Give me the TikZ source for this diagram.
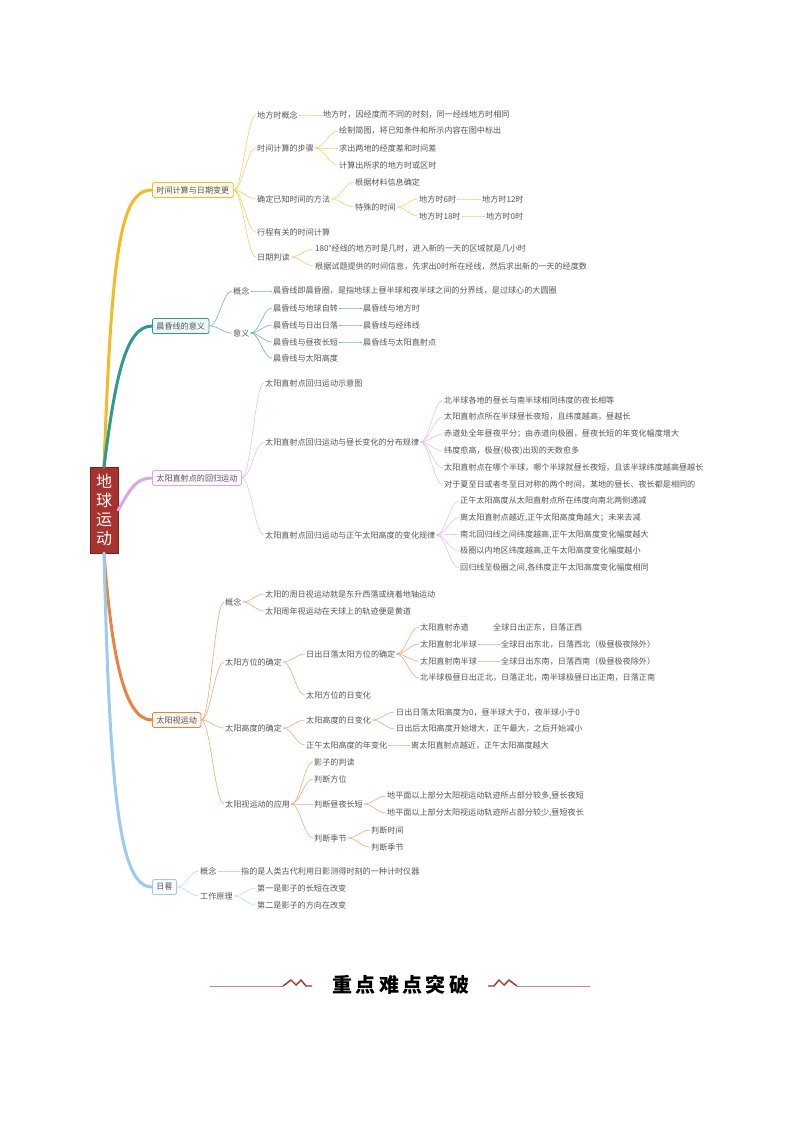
\documentclass[tikz,border=0pt]{standalone}
\usepackage{fontspec}
\newfontfamily\cjk{Noto Sans CJK SC}
\usetikzlibrary{positioning}
\definecolor{rootred}{HTML}{A8322D}
\definecolor{cyel}{HTML}{F5B921}
\definecolor{cteal}{HTML}{2A9A92}
\definecolor{cpur}{HTML}{D9A6E6}
\definecolor{corg}{HTML}{E8843C}
\definecolor{cblu}{HTML}{9CCBF2}
\definecolor{txt}{HTML}{555555}
\tikzset{
  leaf/.style={anchor=west, inner sep=1pt, font=\cjk\fontsize{8.1}{9}\selectfont, text=txt},
  main/.style={draw=#1, fill=#1!8, rounded corners=2pt, line width=0.8pt, anchor=west,
    minimum height=15pt, inner xsep=4pt, font=\cjk\fontsize{8.1}{9}\selectfont, text=txt},
  link/.style={draw=#1!70, line width=0.6pt},
  trunk/.style={draw=#1, line width=3pt, line cap=round},
}
\newcommand{\lnk}[3]{\draw[link=#1] (#2.east) .. controls +(9,0) and +(-9,0) .. (#3.west);}
\begin{document}
\begin{tikzpicture}[x=1pt,y=-1pt]
\useasboundingbox (0,0) rectangle (800,1132);
% root
\node[fill=rootred, draw=rootred!70!black, minimum width=28pt, minimum height=86pt, text=white,
  font=\cjk\fontsize{16}{21}\selectfont, align=center] (root) at (104,510) {地\\[-2pt]球\\[-2pt]运\\[-2pt]动};

% main branches
\node[main=cyel] (b1) at (152,190) {时间计算与日期变更};
\node[main=cteal] (b2) at (152,326) {晨昏线的意义};
\node[main=cpur] (b3) at (152,478) {太阳直射点的回归运动};
\node[main=corg] (b4) at (152,720) {太阳视运动};
\node[main=cblu] (b5) at (152,887) {日晷};
\draw[trunk=cyel] (root.north) .. controls (112,250) and (120,190) .. (b1.west);
\draw[trunk=cteal] (root.north) .. controls (115,380) and (125,326) .. (b2.west);
\draw[trunk=cpur] (root.east) .. controls (130,490) and (135,478) .. (b3.west);
\draw[trunk=corg] (root.south) .. controls (112,660) and (125,720) .. (b4.west);
\draw[trunk=cblu] (root.south) .. controls (110,800) and (120,887) .. (b5.west);

% branch 1
\node[leaf] (b1a) at (256,115) {地方时概念};
\node[leaf] (b1b) at (256,148) {时间计算的步骤};
\node[leaf] (b1c) at (256,199) {确定已知时间的方法};
\node[leaf] (b1d) at (256,232) {行程有关的时间计算};
\node[leaf] (b1e) at (256,257) {日期判读};
\node[leaf] (b1a1) at (322,115) {地方时，因经度而不同的时刻，同一经线地方时相同};
\node[leaf] (b1b1) at (338,131) {绘制简图，将已知条件和所示内容在图中标出};
\node[leaf] (b1b2) at (338,148) {求出两地的经度差和时间差};
\node[leaf] (b1b3) at (338,165) {计算出所求的地方时或区时};
\node[leaf] (b1c1) at (354,182) {根据材料信息确定};
\node[leaf] (b1c2) at (354,207) {特殊的时间};
\node[leaf] (b1c21) at (418,199) {地方时6时};
\node[leaf] (b1c22) at (418,216) {地方时18时};
\node[leaf] (b1c211) at (481,199) {地方时12时};
\node[leaf] (b1c221) at (485,216) {地方时0时};
\node[leaf] (b1e1) at (314,249) {180°经线的地方时是几时，进入新的一天的区域就是几小时};
\node[leaf] (b1e2) at (314,266) {根据试题提供的时间信息，先求出0时所在经线，然后求出新的一天的经度数};
\foreach \a/\b in {b1/b1a,b1/b1b,b1/b1c,b1/b1d,b1/b1e,b1a/b1a1,b1b/b1b1,b1b/b1b2,b1b/b1b3,
  b1c/b1c1,b1c/b1c2,b1c2/b1c21,b1c2/b1c22,b1c21/b1c211,b1c22/b1c221,b1e/b1e1,b1e/b1e2}
  {\lnk{cyel}{\a}{\b}}

% branch 2
\node[leaf] (b2a) at (232,291) {概念};
\node[leaf] (b2b) at (232,333) {意义};
\node[leaf] (b2a1) at (272,291) {晨昏线即晨昏圈，是指地球上昼半球和夜半球之间的分界线，是过球心的大圆圈};
\node[leaf] (b2b1) at (272,308) {晨昏线与地球自转};
\node[leaf] (b2b2) at (272,325) {晨昏线与日出日落};
\node[leaf] (b2b3) at (272,342) {晨昏线与昼夜长短};
\node[leaf] (b2b4) at (272,358) {晨昏线与太阳高度};
\node[leaf] (b2b11) at (362,308) {晨昏线与地方时};
\node[leaf] (b2b21) at (362,325) {晨昏线与经纬线};
\node[leaf] (b2b31) at (362,342) {晨昏线与太阳直射点};
\foreach \a/\b in {b2/b2a,b2/b2b,b2a/b2a1,b2b/b2b1,b2b/b2b2,b2b/b2b3,b2b/b2b4,
  b2b1/b2b11,b2b2/b2b21,b2b3/b2b31}
  {\lnk{cteal}{\a}{\b}}

% branch 3
\node[leaf] (b3a) at (264,383) {太阳直射点回归运动示意图};
\node[leaf] (b3b) at (264,442) {太阳直射点回归运动与昼长变化的分布规律};
\node[leaf] (b3c) at (264,535) {太阳直射点回归运动与正午太阳高度的变化规律};
\foreach \t [count=\i] in {{北半球各地的昼长与南半球相同纬度的夜长相等},
  {太阳直射点所在半球昼长夜短，且纬度越高，昼越长},
  {赤道处全年昼夜平分；由赤道向极圈，昼夜长短的年变化幅度增大},
  {纬度愈高，极昼(极夜)出现的天数愈多},
  {太阳直射点在哪个半球，哪个半球就昼长夜短，且该半球纬度越高昼越长},
  {对于夏至日或者冬至日对称的两个时间，某地的昼长、夜长都是相同的}}
  {\node[leaf] (b3b\i) at (443,{383+17*\i}) {\t}; \lnk{cpur}{b3b}{b3b\i}}
\foreach \t [count=\i] in {{正午太阳高度从太阳直射点所在纬度向南北两侧递减},
  {离太阳直射点越近,正午太阳高度角越大；未来去减},
  {南北回归线之间纬度越高,正午太阳高度变化幅度越大},
  {极圈以内地区纬度越高,正午太阳高度变化幅度越小},
  {回归线至极圈之间,各纬度正午太阳高度变化幅度相同}}
  {\node[leaf] (b3c\i) at (459,{484+16.8*\i}) {\t}; \lnk{cpur}{b3c}{b3c\i}}
\foreach \b in {b3a,b3b,b3c} {\lnk{cpur}{b3}{\b}}

% branch 4
\node[leaf] (b4a) at (224,602) {概念};
\node[leaf] (b4b) at (224,662) {太阳方位的确定};
\node[leaf] (b4c) at (224,728) {太阳高度的确定};
\node[leaf] (b4d) at (224,804) {太阳视运动的应用};
\node[leaf] (b4a1) at (264,594) {太阳的周日视运动就是东升西落或绕着地轴运动};
\node[leaf] (b4a2) at (264,611) {太阳周年视运动在天球上的轨迹便是黄道};
\node[leaf] (b4b1) at (305,654) {日出日落太阳方位的确定};
\node[leaf] (b4b2) at (305,695) {太阳方位的日变化};
\node[leaf] (b4b11) at (419,627) {太阳直射赤道};
\node[leaf] (b4b12) at (419,644) {太阳直射北半球};
\node[leaf] (b4b13) at (419,661) {太阳直射南半球};
\node[leaf] (b4b14) at (419,678) {北半球极昼日出正北，日落正北，南半球极昼日出正南，日落正南};
\node[leaf] (b4b111) at (492,627) {全球日出正东，日落正西};
\node[leaf] (b4b121) at (500,644) {全球日出东北，日落西北（极昼极夜除外）};
\node[leaf] (b4b131) at (500,661) {全球日出东南，日落西南（极昼极夜除外）};
\node[leaf] (b4c1) at (305,720) {太阳高度的日变化};
\node[leaf] (b4c2) at (305,745) {正午太阳高度的年变化};
\node[leaf] (b4c11) at (395,712) {日出日落太阳高度为0，昼半球大于0，夜半球小于0};
\node[leaf] (b4c12) at (395,729) {日出后太阳高度开始增大，正午最大，之后开始减小};
\node[leaf] (b4c21) at (410,745) {离太阳直射点越近，正午太阳高度越大};
\node[leaf] (b4d1) at (313,762) {影子的判读};
\node[leaf] (b4d2) at (313,779) {判断方位};
\node[leaf] (b4d3) at (313,804) {判断昼夜长短};
\node[leaf] (b4d4) at (313,838) {判断季节};
\node[leaf] (b4d31) at (386,796) {地平面以上部分太阳视运动轨迹所占部分较多,昼长夜短};
\node[leaf] (b4d32) at (386,813) {地平面以上部分太阳视运动轨迹所占部分较少,昼短夜长};
\node[leaf] (b4d41) at (370,830) {判断时间};
\node[leaf] (b4d42) at (370,847) {判断季节};
\foreach \a/\b in {b4/b4a,b4/b4b,b4/b4c,b4/b4d,b4a/b4a1,b4a/b4a2,b4b/b4b1,b4b/b4b2,
  b4b1/b4b11,b4b1/b4b12,b4b1/b4b13,b4b1/b4b14,b4b12/b4b121,b4b13/b4b131,
  b4c/b4c1,b4c/b4c2,b4c1/b4c11,b4c1/b4c12,b4c2/b4c21,
  b4d/b4d1,b4d/b4d2,b4d/b4d3,b4d/b4d4,b4d3/b4d31,b4d3/b4d32,b4d4/b4d41,b4d4/b4d42}
  {\lnk{corg}{\a}{\b}}

% branch 5
\node[leaf] (b5a) at (199,871) {概念};
\node[leaf] (b5b) at (199,896) {工作原理};
\node[leaf] (b5a1) at (240,871) {指的是人类古代利用日影测得时刻的一种计时仪器};
\node[leaf] (b5b1) at (256,888) {第一是影子的长短在改变};
\node[leaf] (b5b2) at (256,905) {第二是影子的方向在改变};
\foreach \a/\b in {b5/b5a,b5/b5b,b5a/b5a1,b5b/b5b1,b5b/b5b2}
  {\lnk{cblu}{\a}{\b}}

% footer
\node[font=\cjk\bfseries\fontsize{20}{22}\selectfont, text=black] (head) at (401,985) {重\,点\,难\,点\,突\,破};
\draw[rootred!60, line width=0.8pt] (210,986) -- (283,986);
\draw[rootred, line width=1.4pt] (283,986) -- (291,980) -- (296,985) -- (301,980) -- (306,986) -- (312,986);
\draw[rootred!60, line width=0.8pt] (590,986) -- (517,986);
\draw[rootred, line width=1.4pt] (517,986) -- (509,980) -- (504,985) -- (499,980) -- (494,986) -- (488,986);
\end{tikzpicture}
\end{document}
